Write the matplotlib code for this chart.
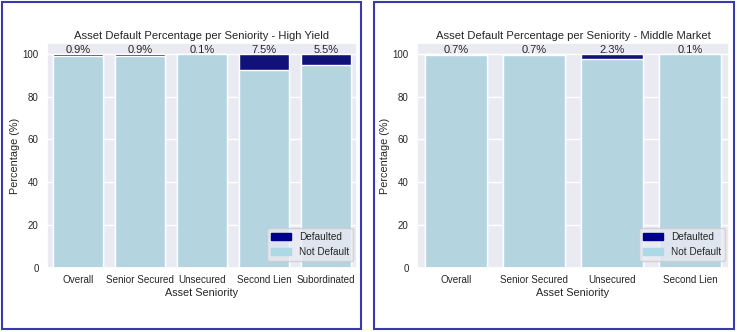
import matplotlib
matplotlib.use("Agg")
import matplotlib.pyplot as plt
import matplotlib.patches as mpatches
import seaborn as sns
import numpy as np

hy_categories = ["Overall", "Senior Secured", "Unsecured", "Second Lien", "Subordinated"]
hy_default_pct = [0.9, 0.9, 0.1, 7.5, 5.5]

mm_categories = ["Overall", "Senior Secured", "Unsecured", "Second Lien"]
mm_default_pct = [0.7, 0.7, 2.3, 0.1]

sns.set_theme(style="darkgrid")
plt.rcParams["font.family"] = ["Liberation Sans", "DejaVu Sans"]

fig = plt.figure(figsize=(7.37, 3.32), dpi=100)
fig.patch.set_facecolor("white")

W, H = 737, 332


def px_axes(x0, y0, x1, y1):
    return fig.add_axes([x0 / W, 1 - y1 / H, (x1 - x0) / W, (y1 - y0) / H])


dark = sns.desaturate("darkblue", 0.75)
light = sns.desaturate("lightblue", 0.75)


def draw(ax, cats, pct, title):
    x = np.arange(len(cats))
    pct = np.array(pct)
    ax.bar(x, [100] * len(cats), width=0.8, color=dark, label="Defaulted")
    ax.bar(x, 100 - pct, width=0.8, color=light, label="Not Default")
    for xi, p in zip(x, pct):
        ax.text(xi, 99.5, f"{p:.1f}%", ha="center", va="bottom", fontsize=8,
                color="#262626")
    ax.set_xlim(-0.5, len(cats) - 0.5)
    ax.set_ylim(0, 105)
    ax.set_xticks(x)
    ax.set_xticklabels(cats, fontsize=7.1)
    ax.set_yticks([0, 20, 40, 60, 80, 100])
    ax.tick_params(axis="y", labelsize=7, length=0, pad=6)
    ax.tick_params(axis="x", length=0, pad=5)
    ax.set_title(title, fontsize=8.1, pad=3)
    ax.set_xlabel("Asset Seniority", fontsize=7.8, labelpad=2)
    ax.set_ylabel("Percentage (%)", fontsize=7.8, labelpad=2)
    handles = [mpatches.Patch(color="darkblue", label="Defaulted"),
               mpatches.Patch(color="lightblue", label="Not Default")]
    ax.legend(handles=handles, loc="lower right", fontsize=7.2,
              bbox_to_anchor=(0.987, 0.031), borderaxespad=0, handlelength=2.0)


ax1 = px_axes(47, 43, 357, 268)
draw(ax1, hy_categories, hy_default_pct,
     "Asset Default Percentage per Seniority - High Yield")

ax2 = px_axes(417, 43, 729, 268)
draw(ax2, mm_categories, mm_default_pct,
     "Asset Default Percentage per Seniority - Middle Market")

# frames round each panel
for x0, x1 in [(2, 361), (374, 734)]:
    fig.patches.append(mpatches.Rectangle((x0 / W, 1 - 329 / H), (x1 - x0) / W, 327 / H,
                                          transform=fig.transFigure, fill=False,
                                          edgecolor="#3a3ab0", linewidth=1.5))

fig.savefig("out.png", dpi=100, facecolor="white")
